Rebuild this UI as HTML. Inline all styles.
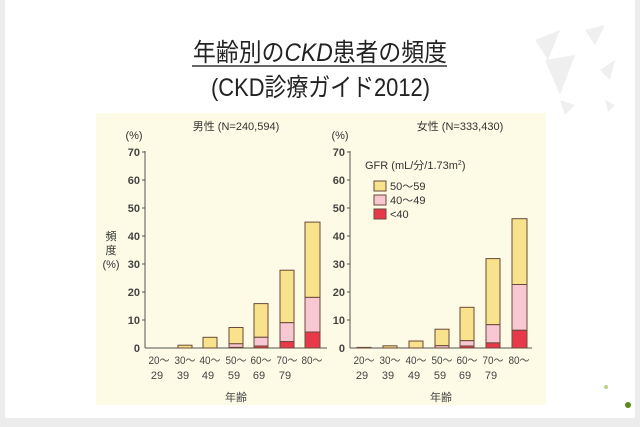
<!DOCTYPE html>
<html><head><meta charset="utf-8"><style>
body{margin:0;width:640px;height:427px;background:#ececec;overflow:hidden;font-family:"Liberation Sans","Noto Sans CJK JP",sans-serif}
</style></head><body>
<svg width="640" height="427" xmlns="http://www.w3.org/2000/svg" style="position:absolute;left:0;top:0">
<rect x="5" y="0" width="630" height="418" fill="#fff"/>
<g fill="#efefef"><polygon points="535,40 560,30 548,60"/><polygon points="545,60 575,55 560,95"/><polygon points="585,30 605,25 595,45"/><polygon points="600,70 615,60 610,80"/><polygon points="560,100 575,105 565,115"/><polygon points="605,100 615,105 608,112"/></g>
<circle cx="628" cy="405" r="3" fill="#5a8a1a"/><circle cx="606" cy="387" r="2" fill="#b9d08a"/>
<rect x="96" y="113" width="450" height="292" fill="#fdfbe5"/>
<g font-family="'Liberation Sans','Noto Sans CJK JP',sans-serif" fill="#222">
<text x="193" y="61" font-size="25" textLength="254" lengthAdjust="spacingAndGlyphs">年齢別の<tspan font-style="italic">CKD</tspan>患者の頻度</text>
<line x1="192" y1="66" x2="447" y2="66" stroke="#333" stroke-width="1.5"/>
<text x="211" y="96" font-size="25" textLength="219" lengthAdjust="spacingAndGlyphs">(CKD診療ガイド2012)</text>
</g>
<g font-family="'Liberation Sans','Noto Sans CJK JP',sans-serif" font-size="11" fill="#333" stroke="#555" stroke-width="1">
<text x="236" y="130" text-anchor="middle" stroke="none">男性 (N=240,594)</text>
<text x="134" y="139" text-anchor="middle" stroke="none">(%)</text>
<line x1="145" y1="151" x2="145" y2="348"/><line x1="145" y1="348" x2="327" y2="348"/>
<g text-anchor="end" stroke="none" font-weight="bold" fill="#444">
<text x="140" y="156">70</text><text x="140" y="184">60</text><text x="140" y="212">50</text><text x="140" y="240">40</text><text x="140" y="268">30</text><text x="140" y="296">20</text><text x="140" y="324">10</text><text x="140" y="352">0</text></g>
<g><line x1="142" y1="152" x2="145" y2="152"/><line x1="142" y1="180" x2="145" y2="180"/><line x1="142" y1="208" x2="145" y2="208"/><line x1="142" y1="236" x2="145" y2="236"/><line x1="142" y1="264" x2="145" y2="264"/><line x1="142" y1="292" x2="145" y2="292"/><line x1="142" y1="320" x2="145" y2="320"/></g>
<g text-anchor="middle" stroke="none"><text x="111" y="240">頻</text><text x="111" y="254">度</text><text x="111" y="268">(%)</text></g>
<text x="460" y="130" text-anchor="middle" stroke="none">女性 (N=333,430)</text>
<text x="340" y="139" text-anchor="middle" stroke="none">(%)</text>
<line x1="350" y1="151" x2="350" y2="348"/><line x1="350" y1="348" x2="532" y2="348"/>
<g text-anchor="end" stroke="none" font-weight="bold" fill="#444">
<text x="345" y="156">70</text><text x="345" y="184">60</text><text x="345" y="212">50</text><text x="345" y="240">40</text><text x="345" y="268">30</text><text x="345" y="296">20</text><text x="345" y="324">10</text><text x="345" y="352">0</text></g>
<g><line x1="347" y1="152" x2="350" y2="152"/><line x1="347" y1="180" x2="350" y2="180"/><line x1="347" y1="208" x2="350" y2="208"/><line x1="347" y1="236" x2="350" y2="236"/><line x1="347" y1="264" x2="350" y2="264"/><line x1="347" y1="292" x2="350" y2="292"/><line x1="347" y1="320" x2="350" y2="320"/></g>
<text x="365" y="169" stroke="none">GFR (mL/分/1.73m<tspan font-size="7" dy="-4">2</tspan><tspan dy="4">)</tspan></text>
<rect x="374" y="181" width="12" height="10" fill="#f8e28c" stroke="#6a4a3a"/><text x="390" y="190" stroke="none">50〜59</text>
<rect x="374" y="195" width="12" height="10" fill="#f7c7d2" stroke="#6a4a3a"/><text x="390" y="204" stroke="none">40〜49</text>
<rect x="374" y="209" width="12" height="10" fill="#e8394a" stroke="#6a4a3a"/><text x="390" y="218" stroke="none">&lt;40</text>
<g text-anchor="middle" stroke="none" fill="#444">
<text x="159" y="364" textLength="21" lengthAdjust="spacingAndGlyphs">20〜</text><text x="157" y="379">29</text>
<text x="185" y="364" textLength="21" lengthAdjust="spacingAndGlyphs">30〜</text><text x="183" y="379">39</text>
<text x="210" y="364" textLength="21" lengthAdjust="spacingAndGlyphs">40〜</text><text x="208" y="379">49</text>
<text x="236" y="364" textLength="21" lengthAdjust="spacingAndGlyphs">50〜</text><text x="234" y="379">59</text>
<text x="261" y="364" textLength="21" lengthAdjust="spacingAndGlyphs">60〜</text><text x="259" y="379">69</text>
<text x="287" y="364" textLength="21" lengthAdjust="spacingAndGlyphs">70〜</text><text x="285" y="379">79</text>
<text x="312" y="364" textLength="21" lengthAdjust="spacingAndGlyphs">80〜</text>
<text x="236" y="401">年齢</text>
<text x="364" y="364" textLength="21" lengthAdjust="spacingAndGlyphs">20〜</text><text x="362" y="379">29</text>
<text x="390" y="364" textLength="21" lengthAdjust="spacingAndGlyphs">30〜</text><text x="388" y="379">39</text>
<text x="416" y="364" textLength="21" lengthAdjust="spacingAndGlyphs">40〜</text><text x="414" y="379">49</text>
<text x="442" y="364" textLength="21" lengthAdjust="spacingAndGlyphs">50〜</text><text x="440" y="379">59</text>
<text x="467" y="364" textLength="21" lengthAdjust="spacingAndGlyphs">60〜</text><text x="465" y="379">69</text>
<text x="493" y="364" textLength="21" lengthAdjust="spacingAndGlyphs">70〜</text><text x="491" y="379">79</text>
<text x="519" y="364" textLength="21" lengthAdjust="spacingAndGlyphs">80〜</text>
<text x="441" y="401">年齢</text>
</g>
</g>
<g stroke="#6a4a3a" stroke-width="1">
<rect x="178" y="345.2" width="14" height="2.8" fill="#f8e28c"/>
<rect x="203" y="337.3" width="14" height="10.7" fill="#f8e28c"/>
<rect x="229" y="327.5" width="14" height="16.3" fill="#f8e28c"/><rect x="229" y="343.8" width="14" height="3.6" fill="#f7c7d2"/><rect x="229" y="347.4" width="14" height="0.6" fill="#e8394a"/>
<rect x="254" y="303.6" width="14" height="33.7" fill="#f8e28c"/><rect x="254" y="337.3" width="14" height="8.7" fill="#f7c7d2"/><rect x="254" y="346" width="14" height="2" fill="#e8394a"/>
<rect x="280" y="270.2" width="14" height="52.5" fill="#f8e28c"/><rect x="280" y="322.7" width="14" height="18.8" fill="#f7c7d2"/><rect x="280" y="341.5" width="14" height="6.5" fill="#e8394a"/>
<rect x="305" y="222.1" width="15" height="75.3" fill="#f8e28c"/><rect x="305" y="297.4" width="15" height="34.6" fill="#f7c7d2"/><rect x="305" y="332" width="15" height="16" fill="#e8394a"/>
<rect x="357" y="347.4" width="14" height="0.6" fill="#e8394a"/>
<rect x="383" y="345.8" width="14" height="2.2" fill="#f8e28c"/>
<rect x="409" y="341" width="14" height="7" fill="#f8e28c"/>
<rect x="435" y="329.2" width="14" height="16.5" fill="#f8e28c"/><rect x="435" y="345.7" width="14" height="2.3" fill="#f7c7d2"/>
<rect x="460" y="307.3" width="14" height="33.4" fill="#f8e28c"/><rect x="460" y="340.7" width="14" height="5.3" fill="#f7c7d2"/><rect x="460" y="346" width="14" height="2" fill="#e8394a"/>
<rect x="486" y="258.6" width="14" height="66.1" fill="#f8e28c"/><rect x="486" y="324.7" width="14" height="18.2" fill="#f7c7d2"/><rect x="486" y="342.9" width="14" height="5.1" fill="#e8394a"/>
<rect x="512" y="218.7" width="15" height="65.8" fill="#f8e28c"/><rect x="512" y="284.5" width="15" height="45.8" fill="#f7c7d2"/><rect x="512" y="330.3" width="15" height="17.7" fill="#e8394a"/>
</g>
</svg>
</body></html>
